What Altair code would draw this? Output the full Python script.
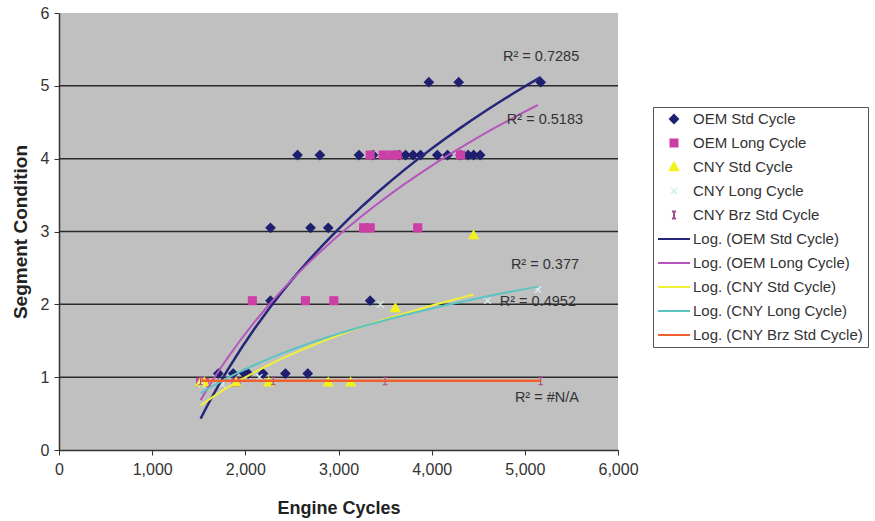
import altair as alt
import pandas as pd

# ---------------- data ----------------
series_names = ["OEM Std Cycle", "OEM Long Cycle", "CNY Std Cycle",
                "CNY Long Cycle", "CNY Brz Std Cycle"]
trend_names = ["Log. (OEM Std Cycle)", "Log. (OEM Long Cycle)", "Log. (CNY Std Cycle)",
               "Log. (CNY Long Cycle)", "Log. (CNY Brz Std Cycle)"]

oem_std_cycles = [3970, 4290, 5170,
                  2560, 2800, 3220, 3370, 3650, 3720, 3800, 3880, 4060, 4170, 4310, 4390, 4450, 4520,
                  2270, 2700, 2890,
                  2270, 3340,
                  1710, 1870, 1990, 2030, 2190, 2430, 2670]
oem_std_cond = [5.05, 5.05, 5.05,
                4.05, 4.05, 4.05, 4.05, 4.05, 4.05, 4.05, 4.05, 4.05, 4.05, 4.05, 4.05, 4.05, 4.05,
                3.05, 3.05, 3.05,
                2.05, 2.05,
                1.05, 1.05, 1.05, 1.05, 1.05, 1.05, 1.05]

oem_long_cycles = [3340, 3480, 3580, 3630, 4310,
                   3270, 3340, 3850,
                   2075, 2645, 2950,
                   1520, 1560, 1900]
oem_long_cond = [4.05, 4.05, 4.05, 4.05, 4.05,
                 3.05, 3.05, 3.05,
                 2.05, 2.05, 2.05,
                 0.93, 0.93, 0.93]

cny_std_cycles = [4450, 3610, 1520, 1560, 1900, 2250, 2890, 3130]
cny_std_cond = [2.95, 1.95, 0.93, 0.93, 0.93, 0.93, 0.93, 0.93]

cny_long_cycles = [1530, 1750, 2150, 3450, 4600, 5140]
cny_long_cond = [0.9, 0.9, 1.0, 2.0, 2.05, 2.2]

cny_brz_cycles = [1520, 2300, 3500, 5170]
cny_brz_cond = [0.95, 0.95, 0.95, 0.95]

trend_start = [1520, 1520, 1520, 1520, 1520]
trend_end = [5170, 5140, 4450, 5140, 5170]

r2_labels = ["R² = 0.7285", "R² = 0.5183", "R² = 0.377", "R² = 0.4952", "R² = #N/A"]
r2_cycles = [5175, 5216, 5216, 5140, 5237]
r2_cond = [5.40, 4.53, 2.54, 2.03, 0.71]

x_ticks = [0, 1000, 2000, 3000, 4000, 5000, 6000]
y_ticks = [0, 1, 2, 3, 4, 5, 6]
grid_levels = [1, 2, 3, 4, 5]

# ---------------- styles ----------------
marker_colors = ["#1f1f70", "#cc3fa6", "#f2f21c", "#d4f2ee", "#a0508f"]
trend_colors = ["#26267a", "#b556bd", "#f0f03a", "#5cc3c3", "#f0602e"]
trend_widths = [2.5, 2, 2, 2, 2.5]
marker_shapes = [
    "M0,-0.25L0.25,0L0,0.25L-0.25,0Z",
    "M-0.22,-0.22H0.22V0.22H-0.22Z",
    "M0,-0.26L0.26,0.2L-0.26,0.2Z",
    "M-0.18,-0.18L0.18,0.18M-0.18,0.18L0.18,-0.18",
    "M-0.13,-0.22H0.13M0,-0.22V0.22M-0.13,0.22H0.13",
]
line_shape = "M-1,0L1,0"

FONT = "Liberation Sans"

# ---------------- tables ----------------
all_cycles = [oem_std_cycles, oem_long_cycles, cny_std_cycles, cny_long_cycles, cny_brz_cycles]
all_cond = [oem_std_cond, oem_long_cond, cny_std_cond, cny_long_cond, cny_brz_cond]
rows = []
for name, xs, ys in zip(series_names, all_cycles, all_cond):
    for x, y in zip(xs, ys):
        rows.append({"series": name, "cycles": x, "cond": y})
df = pd.DataFrame(rows)

r2_df = pd.DataFrame({"label": r2_labels, "cycles": r2_cycles, "cond": r2_cond})
grid_df = pd.DataFrame({"level": grid_levels})

legend_domain = series_names + trend_names
color_range = marker_colors + trend_colors
shape_range = marker_shapes + [line_shape] * len(trend_names)

x_scale = alt.Scale(domain=[0, 6000], nice=False)
y_scale = alt.Scale(domain=[0, 6], nice=False)

x_axis = alt.Axis(values=x_ticks, format=",d", title="Engine Cycles", grid=False,
                  labelFont=FONT, labelFontSize=16, labelColor="#333", labelPadding=6,
                  titleFont=FONT, titleFontSize=18, titleFontWeight="bold", titleColor="#222",
                  titlePadding=22, tickSize=5, tickColor="#333", domainColor="#333",
                  domainWidth=1.5, labelFlush=False)
y_axis = alt.Axis(values=y_ticks, format="d", title="Segment Condition", grid=False,
                  labelFont=FONT, labelFontSize=16, labelColor="#333", labelPadding=5,
                  titleFont=FONT, titleFontSize=19, titleFontWeight="bold", titleColor="#222",
                  titlePadding=10, tickSize=5, tickColor="#333", domainColor="#333",
                  domainWidth=1.5)

x_enc = alt.X("cycles:Q", scale=x_scale, axis=x_axis)
y_enc = alt.Y("cond:Q", scale=y_scale, axis=y_axis)

legend = alt.Legend(title=None, orient="none", legendX=594, legendY=94,
                    symbolSize=1024, symbolStrokeWidth=2, clipHeight=16,
                    labelFont=FONT, labelFontSize=15, labelColor="#333", labelLimit=300,
                    labelOffset=2, rowPadding=8, padding=4,
                    strokeColor="#555", fillColor="white", symbolOffset=0)

base = alt.Chart(df)

grid = alt.Chart(grid_df).mark_rule(color="#2a2a2a", strokeWidth=1.5).encode(
    y=alt.Y("level:Q", scale=y_scale, axis=y_axis)
)

points = base.mark_point(filled=True, size=1300, strokeWidth=1.2, opacity=1).encode(
    x=x_enc,
    y=y_enc,
    fill=alt.Fill("series:N", scale=alt.Scale(domain=legend_domain, range=color_range), legend=legend),
    stroke=alt.Stroke("series:N", scale=alt.Scale(domain=legend_domain, range=color_range), legend=legend),
    shape=alt.Shape("series:N", scale=alt.Scale(domain=legend_domain, range=shape_range), legend=legend),
)

trends = []
for name, lo, hi, col, w in zip(series_names, trend_start, trend_end, trend_colors, trend_widths):
    trends.append(
        base.transform_filter(alt.datum.series == name)
        .transform_regression("cycles", "cond", method="log", extent=[lo, hi])
        .mark_line(color=col, strokeWidth=w, clip=True)
        .encode(x=x_enc, y=y_enc)
    )

texts = alt.Chart(r2_df).mark_text(font=FONT, fontSize=14.5, color="#333").encode(
    x=x_enc,
    y=y_enc,
    text="label:N",
)

chart = alt.layer(grid, points, *trends, texts).properties(
    width=559, height=437,
    autosize=alt.AutoSizeParams(type="none"),
    padding={"left": 59, "top": 13, "right": 257, "bottom": 71},
    background="white",
).configure_view(fill="#c0c0c0", strokeWidth=0)

chart.save("out.html", embed_options={"renderer": "svg", "actions": False})
